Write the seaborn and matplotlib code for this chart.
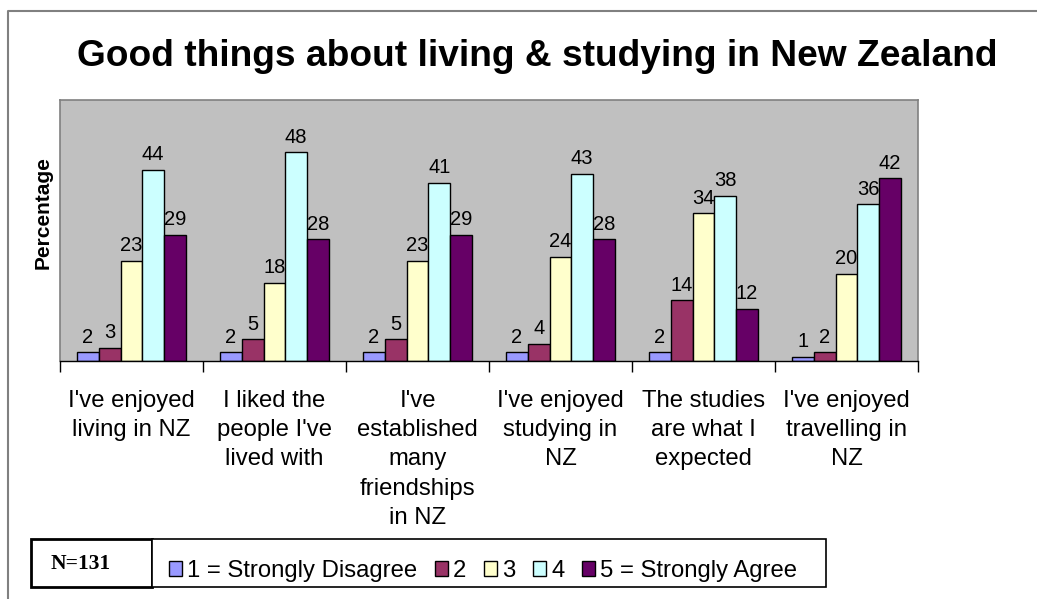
import matplotlib
matplotlib.use("Agg")
import matplotlib.pyplot as plt
import seaborn as sns
import pandas as pd
import numpy as np
from matplotlib.patches import Rectangle, Patch
from matplotlib.lines import Line2D

categories = [
    "I've enjoyed\nliving in NZ",
    "I liked the\npeople I've\nlived with",
    "I've\nestablished\nmany\nfriendships\nin NZ",
    "I've enjoyed\nstudying in\nNZ",
    "The studies\nare what I\nexpected",
    "I've enjoyed\ntravelling in\nNZ",
]
series_names = ["1 = Strongly Disagree", "2", "3", "4", "5 = Strongly Agree"]
s1 = [2, 2, 2, 2, 2, 1]
s2 = [3, 5, 5, 4, 14, 2]
s3 = [23, 18, 23, 24, 34, 20]
s4 = [44, 48, 41, 43, 38, 36]
s5 = [29, 28, 29, 28, 12, 42]
colors = ["#9999FF", "#993366", "#FFFFCC", "#CCFFFF", "#660066"]

rows = []
for name, vals in zip(series_names, [s1, s2, s3, s4, s5]):
    for c, v in zip(categories, vals):
        rows.append({"cat": c, "series": name, "value": v})
df = pd.DataFrame(rows)

sns.set_theme(style="white")
plt.rcParams['font.family'] = ['Liberation Sans', 'DejaVu Sans']
plt.rcParams['text.color'] = 'black'
plt.rcParams['xtick.color'] = 'black'
plt.rcParams['ytick.color'] = 'black'
plt.rcParams['axes.labelcolor'] = 'black'

W, H = 1037, 599
fig = plt.figure(figsize=(W / 100, H / 100), dpi=100)
ax = fig.add_axes([60 / W, 1 - 361 / H, (918 - 60) / W, (361 - 100) / H])
ax.set_facecolor("#C0C0C0")

sns.barplot(data=df, x="cat", y="value", hue="series", order=categories,
            hue_order=series_names, palette=colors, width=0.76,
            edgecolor="black", linewidth=1.0, saturation=1, ax=ax,
            legend=False, errorbar=None)

for cont in ax.containers:
    ax.bar_label(cont, fmt="%d", padding=4, fontsize=14.5, color="black")

ax.set_ylim(0, 60)
ax.set_xlim(-0.5, len(categories) - 0.5)
ax.set_yticks([])
ax.set_xlabel("")
ax.set_ylabel("")
ax.set_xticks(range(len(categories)))
ax.set_xticklabels(categories, fontsize=17.2, linespacing=1.42, va="top")
ax.tick_params(axis="x", which="major", length=0, pad=21)
ax.set_xticks(np.arange(-0.5, len(categories), 1.0), minor=True)
ax.tick_params(axis="x", which="minor", length=8, width=1, color="black", bottom=True)

for side in ["left", "top", "right"]:
    ax.spines[side].set_color("#808080")
    ax.spines[side].set_linewidth(1.2)
ax.spines["bottom"].set_color("black")
ax.spines["bottom"].set_linewidth(1.0)

fig.text(537.5 / W, 1 - 66 / H, "Good things about living & studying in New Zealand",
         ha="center", va="baseline", fontsize=26.7, fontweight="bold")
fig.text(43 / W, 1 - 213 / H, "Percentage", rotation=90, ha="center",
         va="center", fontsize=15, fontweight="bold")

# figure border (left and top)
fig.add_artist(Line2D([8 / W, 8 / W, 1.0], [0.0, 1 - 11 / H, 1 - 11 / H],
                      color="#808080", linewidth=1.5, transform=fig.transFigure))

# N box
fig.add_artist(Rectangle((31 / W, 1 - 587 / H), (152 - 31) / W, (587 - 539) / H,
                         transform=fig.transFigure, facecolor="white",
                         edgecolor="black", linewidth=2))
fig.text(81 / W, 1 - 564 / H, "N=131", ha="center", va="center",
         fontsize=15.5, fontweight="bold", family="Liberation Serif")

# legend box
fig.add_artist(Rectangle((152 / W, 1 - 587 / H), (826 - 152) / W, (587 - 539) / H,
                         transform=fig.transFigure, facecolor="white",
                         edgecolor="black", linewidth=1.2))
handles = [Patch(facecolor=c, edgecolor="black", linewidth=1) for c in colors]
fig.legend(handles, series_names, loc="center left",
           bbox_to_anchor=(169 / W, 1 - 571 / H), ncol=5, frameon=False,
           fontsize=17.2, handlelength=0.55, handleheight=0.55,
           handletextpad=0.2, columnspacing=0.75, borderpad=0, borderaxespad=0)

fig.savefig("out.png", dpi=100)
